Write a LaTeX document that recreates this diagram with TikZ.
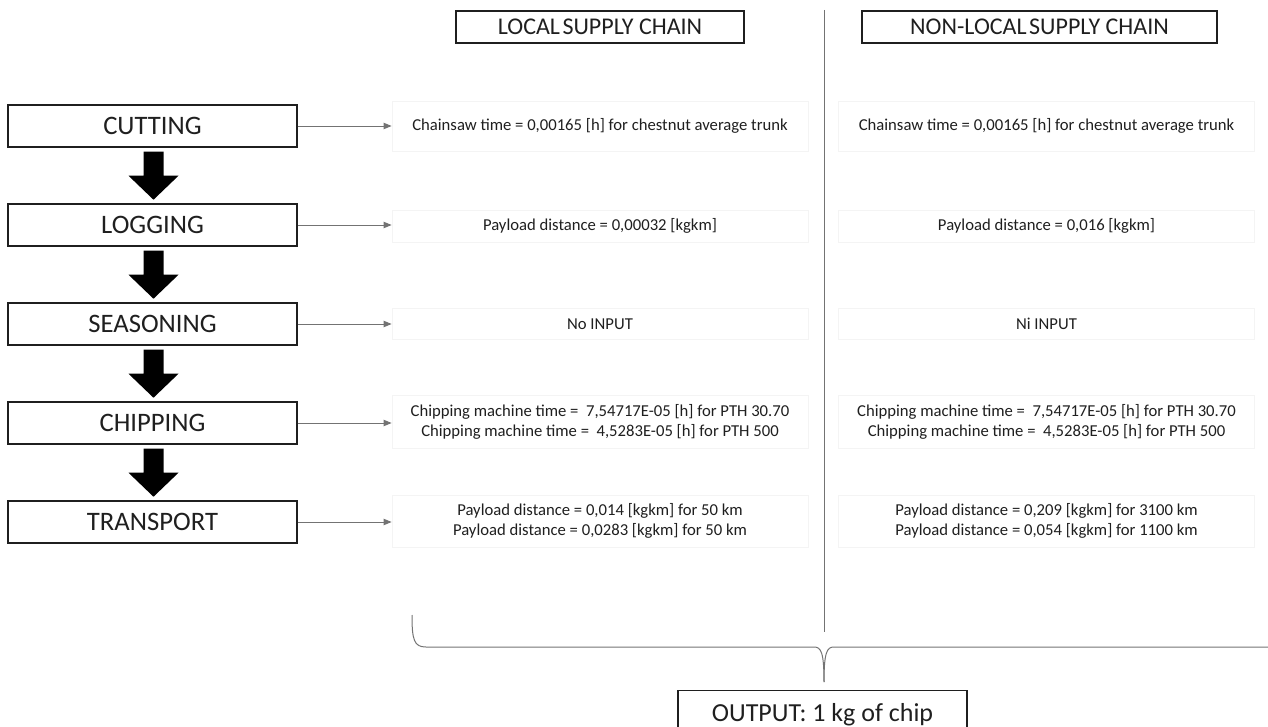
\documentclass[tikz,border=0pt]{standalone}
\usepackage{fontspec}
\setmainfont{Carlito}
\usetikzlibrary{calc,arrows.meta}

\definecolor{ink}{gray}{0.12}
\definecolor{rule}{gray}{0.45}
\definecolor{faintedge}{gray}{0.955}

\tikzset{
  % one unit = one pixel, y grows downward
  every picture/.style={x=0.75pt,y=-0.75pt},
  proc/.style={draw=ink,line width=1.1pt,minimum width=216.75pt,minimum height=31.5pt,
    inner sep=0pt,text=ink,font=\fontsize{20}{23}\selectfont},
  hdr/.style={draw=ink,line width=0.8pt,minimum height=24pt,inner sep=0pt,text=ink,
    font=\fontsize{18}{21}\selectfont},
  info/.style={draw=faintedge,line width=0.6pt,fill=white,minimum width=312pt,inner sep=0pt,
    text=ink,align=center,font=\fontsize{12.5}{15}\selectfont},
  link/.style={draw=rule,line width=0.7pt,-{Triangle[length=6pt,width=4.8pt]}},
  blockarrow/.style={fill=black},
  brace/.style={draw=rule,line width=0.75pt},
}

\begin{document}
\begin{tikzpicture}
\useasboundingbox (0,0) rectangle (1268,727);
\clip (0,0) rectangle (1268,727);

% column headers
\node[hdr,minimum width=216pt] (hloc) at (600,27) {LOCAL\hspace{-0.12em} SUPPLY CHAIN};
\node[hdr,minimum width=266.25pt] (hnon) at (1039.5,27) {NON-LOCAL\hspace{-0.12em} SUPPLY CHAIN};

% column divider
\coordinate (dtop) at (824,10);
\coordinate (dbot) at (824,632);
\draw[rule,line width=0.75pt] (dtop) -- (dbot);

% process steps
\node[proc] (cut)  at (152.5,126) {CUTTING};
\node[proc] (log)  at (152.5,225) {LOGGING};
\node[proc] (sea)  at (152.5,324) {SEASONING};
\node[proc] (chip) at (152.5,423) {CHIPPING};
\node[proc] (tra)  at (152.5,522) {TRANSPORT};

% block arrows between steps
\foreach \a in {cut,log,sea,chip}{
  \fill[blockarrow] ($(\a.south)+(-9,4)$) -- ($(\a.south)+(11,4)$) -- ($(\a.south)+(11,28)$)
    -- ($(\a.south)+(26,28)$) -- ($(\a.south)+(1,52)$) -- ($(\a.south)+(-24,28)$)
    -- ($(\a.south)+(-9,28)$) -- cycle;
}

% local supply chain inputs
\node[info,minimum height=37.5pt] (lcut) at (600,126) {Chainsaw time = 0,00165 [h] for chestnut average trunk};
\node[info,minimum height=24pt] (llog) at (600,226) {Payload distance = 0,00032 [kgkm]};
\node[info,minimum height=23.25pt] (lsea) at (600,324) {No INPUT};
\node[info,minimum height=39.75pt] (lchip) at (600,422) {Chipping machine time =\ \ 7,54717E-05 [h] for PTH 30.70\\Chipping machine time =\ \ 4,5283E-05 [h] for PTH 500};
\node[info,minimum height=39pt] (ltra) at (600,521) {Payload distance = 0,014 [kgkm] for 50 km\\Payload distance = 0,0283 [kgkm] for 50 km};

% non-local supply chain inputs
\node[info,minimum height=37.5pt] (ncut) at (1046.5,126) {Chainsaw time = 0,00165 [h] for chestnut average trunk};
\node[info,minimum height=24pt] (nlog) at (1046.5,226) {Payload distance = 0,016 [kgkm]};
\node[info,minimum height=23.25pt] (nsea) at (1046.5,324) {Ni INPUT};
\node[info,minimum height=39.75pt] (nchip) at (1046.5,422) {Chipping machine time =\ \ 7,54717E-05 [h] for PTH 30.70\\Chipping machine time =\ \ 4,5283E-05 [h] for PTH 500};
\node[info,minimum height=39pt] (ntra) at (1046.5,521) {Payload distance = 0,209 [kgkm] for 3100 km\\Payload distance = 0,054 [kgkm] for 1100 km};

% step-to-input connectors
\draw[link] (cut.east) -- (cut.east -| lcut.west);
\draw[link] (log.east) -- (log.east -| llog.west);
\draw[link] (sea.east) -- (sea.east -| lsea.west);
\draw[link] (chip.east) -- (chip.east -| lchip.west);
\draw[link] (tra.east) -- (tra.east -| ltra.west);

% output
\node[draw=ink,line width=0.8pt,anchor=north,minimum width=216.75pt,inner xsep=0pt,inner ysep=10.5pt,
  text height=12.75pt,text depth=3.75pt,text=ink,font=\fontsize{19.5}{23}\selectfont]
  (out) at (822.5,690) {OUTPUT: 1 kg of chip};

% brace gathering both chains into the output
\coordinate (bl) at (412,615);
\coordinate (bt) at (824,682);
\coordinate (br) at (1290,647);
\draw[brace] (bl) .. controls (412,640) and (414,647) .. (426,647) -- (814,647)
  .. controls (821,647) and (824,652) .. (bt);
\draw[brace] (bt) .. controls (824,652) and (827,647) .. (834,647) -- (br);
\end{tikzpicture}
\end{document}
